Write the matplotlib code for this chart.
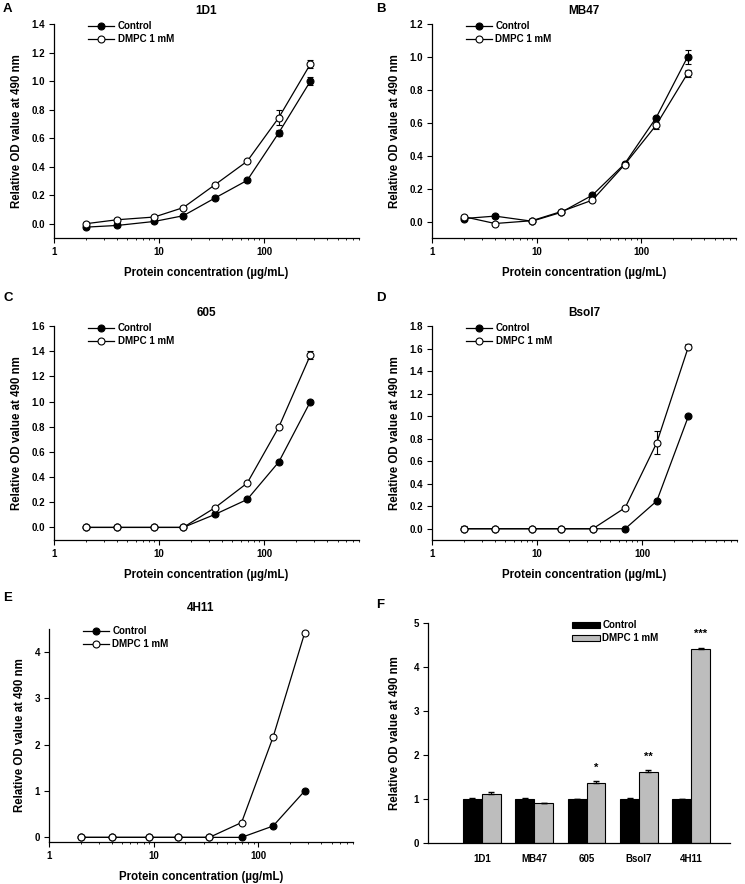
#!/usr/bin/env python3
import matplotlib
matplotlib.use("Agg")
import matplotlib.pyplot as plt
from matplotlib.lines import Line2D
from matplotlib.ticker import FixedLocator, LogLocator, NullFormatter

# ----------------- Data -----------------

conc = [2, 4, 9, 17, 34, 69, 138, 276]   # µg/mL

ctrl_1d1 = [-0.024, -0.012, 0.016, 0.056, 0.18, 0.304, 0.638, 1.0]
dmpc_1d1 = [0.0, 0.028, 0.047, 0.113, 0.273, 0.438, 0.744, 1.12]
ctrl_1d1_err = [0.01, 0.01, 0.01, 0.01, 0.01, 0.01, 0.02, 0.03]
dmpc_1d1_err = [0.01, 0.01, 0.01, 0.01, 0.01, 0.01, 0.055, 0.025]

ctrl_mb47 = [0.018, 0.033, 0.002, 0.055, 0.16, 0.35, 0.63, 1.0]
dmpc_mb47 = [0.03, -0.012, 0.005, 0.06, 0.13, 0.345, 0.585, 0.90]
ctrl_mb47_err = [0.01, 0.01, 0.005, 0.005, 0.01, 0.01, 0.01, 0.04]
dmpc_mb47_err = [0.01, 0.01, 0.005, 0.005, 0.01, 0.01, 0.02, 0.02]

ctrl_605 = [0.0, 0.0, 0.0, 0.0, 0.103, 0.222, 0.52, 1.0]
dmpc_605 = [0.0, 0.0, 0.0, 0.0, 0.156, 0.352, 0.797, 1.37]
ctrl_605_err = [0, 0, 0, 0, 0.01, 0.01, 0.01, 0.01]
dmpc_605_err = [0, 0, 0, 0, 0.01, 0.01, 0.01, 0.03]

ctrl_bsol7 = [0.0, 0.0, 0.0, 0.0, 0.0, 0.0, 0.247, 1.0]
dmpc_bsol7 = [0.0, 0.0, 0.0, 0.0, 0.0, 0.187, 0.764, 1.617]
ctrl_bsol7_err = [0.02, 0, 0, 0, 0, 0, 0.01, 0.01]
dmpc_bsol7_err = [0.01, 0, 0, 0, 0, 0.01, 0.10, 0.02]

ctrl_4h11 = [0.0, 0.0, 0.0, 0.0, 0.0, 0.0, 0.245, 1.0]
dmpc_4h11 = [0.0, 0.0, 0.0, 0.0, 0.0, 0.32, 2.165, 4.41]

bar_groups = ['1D1', 'MB47', '605', 'Bsol7', '4H11']
bar_ctrl = [1.0, 1.0, 1.0, 1.0, 1.0]
bar_ctrl_err = [0.03, 0.03, 0.01, 0.02, 0.01]
bar_dmpc = [1.12, 0.90, 1.37, 1.62, 4.42]
bar_dmpc_err = [0.03, 0.02, 0.03, 0.03, 0.01]
bar_stars = ['', '', '*', '**', '***']

# ----------------- Style -----------------

plt.rcParams['font.family'] = ['Liberation Sans', 'DejaVu Sans']
plt.rcParams['font.weight'] = 'bold'
plt.rcParams['axes.labelweight'] = 'bold'
plt.rcParams['axes.titleweight'] = 'bold'
plt.rcParams['axes.linewidth'] = 0.9

W, H = 745, 884
TICK_FS = 7
fig = plt.figure(figsize=(W / 100, H / 100), dpi=100)


def box(l, t, r, b):
    return [l / W, 1 - b / H, (r - l) / W, (b - t) / H]


def curve_panel(rect, title, ctrl, dmpc, ctrl_err, dmpc_err, ylim, yticks, fmt):
    ax = fig.add_axes(box(*rect))
    ax.errorbar(conc, ctrl, yerr=ctrl_err, color='black', lw=0.9,
                marker='o', ms=5, mfc='black', mec='black', mew=0.8,
                capsize=2, elinewidth=0.8, zorder=3)
    ax.errorbar(conc, dmpc, yerr=dmpc_err, color='black', lw=0.9,
                marker='o', ms=5, mfc='white', mec='black', mew=0.8,
                capsize=2, elinewidth=0.8, zorder=4)
    ax.set_xscale('log')
    ax.set_xlim(1, 800)
    ax.set_ylim(*ylim)
    ax.xaxis.set_major_locator(FixedLocator([1, 10, 100]))
    ax.set_xticklabels(['1', '10', '100'])
    ax.xaxis.set_minor_locator(LogLocator(base=10, subs=range(2, 10)))
    ax.xaxis.set_minor_formatter(NullFormatter())
    ax.set_yticks(yticks)
    ax.set_yticklabels([fmt.format(v) for v in yticks])
    for s in ['top', 'right']:
        ax.spines[s].set_visible(False)
    ax.spines['left'].set_bounds(ylim[0], yticks[-1])
    ax.tick_params(which='major', direction='out', length=3.5, width=0.8,
                   labelsize=TICK_FS, pad=3)
    ax.tick_params(axis='x', which='minor', direction='out', length=1.6, width=0.6)
    ax.set_xlabel('Protein concentration (\u00b5g/mL)', fontsize=8.3, labelpad=7)
    ax.set_ylabel('Relative OD value at 490 nm', fontsize=8.3, labelpad=6)
    ax.set_title(title, fontsize=8.5, pad=7)
    handles = [
        Line2D([], [], color='black', lw=0.9, marker='o', ms=5,
               mfc='black', mec='black', mew=0.8),
        Line2D([], [], color='black', lw=0.9, marker='o', ms=5,
               mfc='white', mec='black', mew=0.8),
    ]
    ax.legend(handles, ['Control', 'DMPC 1 mM'], loc='upper left',
              bbox_to_anchor=(0.1, 1.03), frameon=False,
              fontsize=7, handlelength=2.6, handletextpad=0.4,
              labelspacing=0.3, borderaxespad=0)
    return ax


curve_panel((54, 24, 359, 238), '1D1', ctrl_1d1, dmpc_1d1,
            ctrl_1d1_err, dmpc_1d1_err, (-0.1, 1.4),
            [0.0, 0.2, 0.4, 0.6, 0.8, 1.0, 1.2, 1.4], '{:.1f}')
curve_panel((432, 24, 736, 238), 'MB47', ctrl_mb47, dmpc_mb47,
            ctrl_mb47_err, dmpc_mb47_err, (-0.1, 1.2),
            [0.0, 0.2, 0.4, 0.6, 0.8, 1.0, 1.2], '{:.1f}')
curve_panel((54, 326, 359, 540), '605', ctrl_605, dmpc_605,
            ctrl_605_err, dmpc_605_err, (-0.1, 1.6),
            [0.0, 0.2, 0.4, 0.6, 0.8, 1.0, 1.2, 1.4, 1.6], '{:.1f}')
curve_panel((432, 326, 737, 540), 'Bsol7', ctrl_bsol7, dmpc_bsol7,
            ctrl_bsol7_err, dmpc_bsol7_err, (-0.1, 1.8),
            [0.0, 0.2, 0.4, 0.6, 0.8, 1.0, 1.2, 1.4, 1.6, 1.8], '{:.1f}')
axE = curve_panel((49, 629, 353, 842), '4H11', ctrl_4h11, dmpc_4h11,
                  None, None, (-0.1, 4.5), [0, 1, 2, 3, 4], '{:d}')
axE.spines['left'].set_bounds(-0.1, 4.5)
axE.set_title('4H11', fontsize=8.5, pad=13)

# ----------------- Bar panel F -----------------

axF = fig.add_axes(box(428, 623, 730, 843))
xs = list(range(len(bar_groups)))
bw = 0.36
axF.bar([x - bw / 2 for x in xs], bar_ctrl, width=bw, color='black',
        edgecolor='black', lw=0.8, label='Control')
axF.bar([x + bw / 2 for x in xs], bar_dmpc, width=bw, color='#bdbdbd',
        edgecolor='black', lw=0.8, label='DMPC 1 mM')
axF.errorbar([x - bw / 2 for x in xs], bar_ctrl,
             yerr=[[0] * len(xs), bar_ctrl_err], fmt='none', ecolor='black',
             capsize=2, elinewidth=0.8)
axF.errorbar([x + bw / 2 for x in xs], bar_dmpc,
             yerr=[[0] * len(xs), bar_dmpc_err], fmt='none', ecolor='black',
             capsize=2, elinewidth=0.8)
for x, v, s in zip(xs, bar_dmpc, bar_stars):
    if s:
        axF.text(x + bw / 2, v + 0.22, s, ha='center', va='bottom', fontsize=8)
axF.set_xlim(-1.03, 4.74)
axF.set_ylim(0, 5)
axF.set_yticks([0, 1, 2, 3, 4, 5])
axF.set_xticks(xs)
axF.set_xticklabels(bar_groups)
for s in ['top', 'right']:
    axF.spines[s].set_visible(False)
axF.tick_params(axis='y', direction='out', length=3.5, width=0.8,
                labelsize=TICK_FS, pad=3)
axF.tick_params(axis='x', length=0, labelsize=TICK_FS, pad=8)
axF.set_ylabel('Relative OD value at 490 nm', fontsize=8.3, labelpad=9)
axF.legend(loc='upper left', bbox_to_anchor=(0.463, 1.03), frameon=False,
           fontsize=7, handlelength=2.9, handleheight=0.6, handletextpad=0.25,
           labelspacing=0.3, borderaxespad=0)

# panel letters
for letter, px, py in [('A', 3, 9), ('B', 376, 9), ('C', 3, 298), ('D', 376, 298),
                       ('E', 3, 598), ('F', 376, 605)]:
    fig.text(px / W, 1 - py / H, letter, fontsize=9.5, ha='left', va='center')

fig.savefig('out.png', dpi=100)
